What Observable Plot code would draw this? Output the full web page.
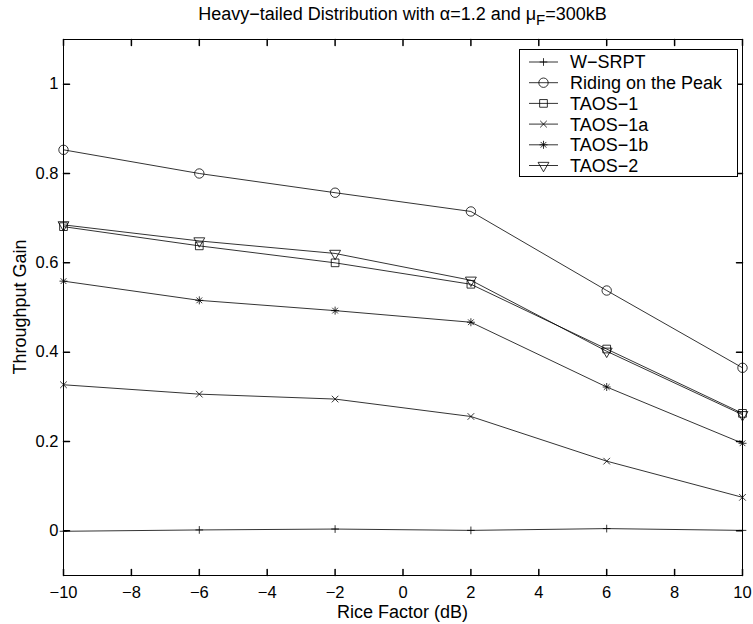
<!DOCTYPE html>
<html>
<head>
<meta charset="utf-8">
<script src="https://cdn.jsdelivr.net/npm/d3@7"></script>
<script src="https://cdn.jsdelivr.net/npm/@observablehq/plot@0.6"></script>
<style>
  html, body { margin: 0; padding: 0; background: #fff; }
  #chart svg { display: block; }
</style>
</head>
<body>
<div id="chart"></div>
<script>
// Throughput gain versus Rice factor for each scheduler
const riceFactor = [-10, -6, -2, 2, 6, 10];
const wSrpt      = [-0.001, 0.002, 0.004, 0.001, 0.005, 0.001];
const ridingPeak = [0.853, 0.800, 0.757, 0.715, 0.538, 0.365];
const taos1      = [0.681, 0.638, 0.600, 0.552, 0.407, 0.263];
const taos1a     = [0.327, 0.306, 0.295, 0.256, 0.156, 0.075];
const taos1b     = [0.559, 0.516, 0.493, 0.467, 0.322, 0.196];
const taos2      = [0.685, 0.649, 0.621, 0.561, 0.402, 0.260];

const seriesNames = ["W−SRPT", "Riding on the Peak", "TAOS−1", "TAOS−1a", "TAOS−1b", "TAOS−2"];
const seriesValues = [wSrpt, ridingPeak, taos1, taos1a, taos1b, taos2];

const xTicks = [-10, -8, -6, -4, -2, 0, 2, 4, 6, 8, 10];
const yTicks = [0, 0.2, 0.4, 0.6, 0.8, 1];

const titleMain = "Heavy−tailed Distribution with α=1.2 and μ";
const titleSub = "F";
const titleTail = "=300kB";
const xLabel = "Rice Factor (dB)";
const yLabel = "Throughput Gain";

const FONT = "'Liberation Sans', Arial, Helvetica, sans-serif";

// Downward-pointing open triangle
const triangleDown = {
  draw(context, size) {
    const s = Math.sqrt(size) * 0.6824;
    const t = s / 2;
    const u = (s * Math.sqrt(3)) / 2;
    context.moveTo(0, s);
    context.lineTo(u, -t);
    context.lineTo(-u, -t);
    context.closePath();
  }
};

// Marker glyphs per series (asterisk = plus + times overlaid)
const markerSpecs = [
  [{ symbol: d3.symbolPlus, r: 2.6 }],
  [{ symbol: d3.symbolCircle, r: 4.7 }],
  [{ symbol: d3.symbolSquare2, r: 4.9 }],
  [{ symbol: d3.symbolTimes, r: 3.1 }],
  [{ symbol: d3.symbolPlus, r: 2.7 }, { symbol: d3.symbolTimes, r: 2.7 }],
  [{ symbol: triangleDown, r: 5.2 }]
];

const rows = seriesNames.flatMap((name, k) =>
  riceFactor.map((x, i) => ({ series: name, x, y: seriesValues[k][i] }))
);

// Short inward tick drawn as a vector
const tickShape = { draw(context, l) { context.moveTo(0, 0); context.lineTo(0, -l); } };
const TICK = 6;
const fmt = d3.format("");

const markerMarks = seriesNames.flatMap((name, k) =>
  markerSpecs[k].map(spec =>
    Plot.dot(rows.filter(d => d.series === name), {
      x: "x", y: "y", symbol: spec.symbol, r: spec.r,
      stroke: "#000", strokeWidth: 0.8, fill: "none"
    })
  )
);

const frameLeft = 63, frameRight = 753 - 11, frameTop = 39, frameBottom = 624 - 49;

const chart = Plot.plot({
  width: 753,
  height: 624,
  marginLeft: frameLeft,
  marginRight: 753 - frameRight,
  marginTop: frameTop,
  marginBottom: 624 - frameBottom,
  style: { fontFamily: FONT, fontSize: "16.5px", color: "#000", background: "#fff", overflow: "visible" },
  x: { domain: [-10, 10] },
  y: { domain: [-0.1, 1.1] },
  marks: [
    Plot.line(rows, { x: "x", y: "y", z: "series", stroke: "#000", strokeWidth: 0.8 }),
    ...markerMarks,
    Plot.vector(xTicks, { x: d => d, frameAnchor: "bottom", rotate: 0, length: TICK, anchor: "start", shape: tickShape, stroke: "#000" }),
    Plot.vector(xTicks, { x: d => d, frameAnchor: "top", rotate: 180, length: TICK, anchor: "start", shape: tickShape, stroke: "#000" }),
    Plot.vector(yTicks, { y: d => d, frameAnchor: "left", rotate: 90, length: TICK, anchor: "start", shape: tickShape, stroke: "#000" }),
    Plot.vector(yTicks, { y: d => d, frameAnchor: "right", rotate: -90, length: TICK, anchor: "start", shape: tickShape, stroke: "#000" }),
    Plot.frame({ stroke: "#000", strokeWidth: 1 }),
    Plot.axisX({ ticks: xTicks, tickSize: 0, tickPadding: 11, tickFormat: fmt, label: null }),
    Plot.axisY({ ticks: yTicks, tickSize: 0, tickPadding: 5, tickFormat: fmt, label: null })
  ]
});

document.getElementById("chart").appendChild(chart);

const svg = d3.select(chart);
const midX = (frameLeft + frameRight) / 2;

// Title with subscript
const title = svg.append("text")
  .attr("x", midX).attr("y", 20)
  .attr("text-anchor", "middle")
  .attr("font-family", FONT).attr("font-size", 18).attr("fill", "#000");
title.append("tspan").text(titleMain);
title.append("tspan").attr("dy", 5).attr("font-size", 15).text(titleSub);
title.append("tspan").attr("dy", -5).text(titleTail);

// Axis titles
svg.append("text")
  .attr("x", midX).attr("y", 618)
  .attr("text-anchor", "middle")
  .attr("font-family", FONT).attr("font-size", 18).attr("fill", "#000")
  .text(xLabel);

svg.append("text")
  .attr("transform", `translate(26,${(frameTop + frameBottom) / 2}) rotate(-90)`)
  .attr("text-anchor", "middle")
  .attr("font-family", FONT).attr("font-size", 18).attr("fill", "#000")
  .text(yLabel);

// Legend box in the upper-right corner
const lg = svg.append("g")
  .attr("font-family", FONT).attr("font-size", 18).attr("text-anchor", "start");
const boxX = 519.5, boxY = 49.5, boxW = 218, boxH = 127;
lg.append("rect")
  .attr("x", boxX).attr("y", boxY).attr("width", boxW).attr("height", boxH)
  .attr("fill", "#fff").attr("stroke", "#000").attr("stroke-width", 1);

seriesNames.forEach((name, k) => {
  const yy = 62 + k * 20.7;
  lg.append("line")
    .attr("x1", 529).attr("x2", 558).attr("y1", yy).attr("y2", yy)
    .attr("stroke", "#000").attr("stroke-width", 0.8);
  markerSpecs[k].forEach(spec => {
    lg.append("path")
      .attr("transform", `translate(543.5,${yy})`)
      .attr("d", d3.symbol(spec.symbol, Math.PI * spec.r * spec.r)())
      .attr("fill", "none").attr("stroke", "#000").attr("stroke-width", 0.8);
  });
  lg.append("text")
    .attr("x", 570).attr("y", yy).attr("dy", "0.36em")
    .attr("text-anchor", "start")
    .attr("fill", "#000")
    .text(name);
});
</script>
</body>
</html>
